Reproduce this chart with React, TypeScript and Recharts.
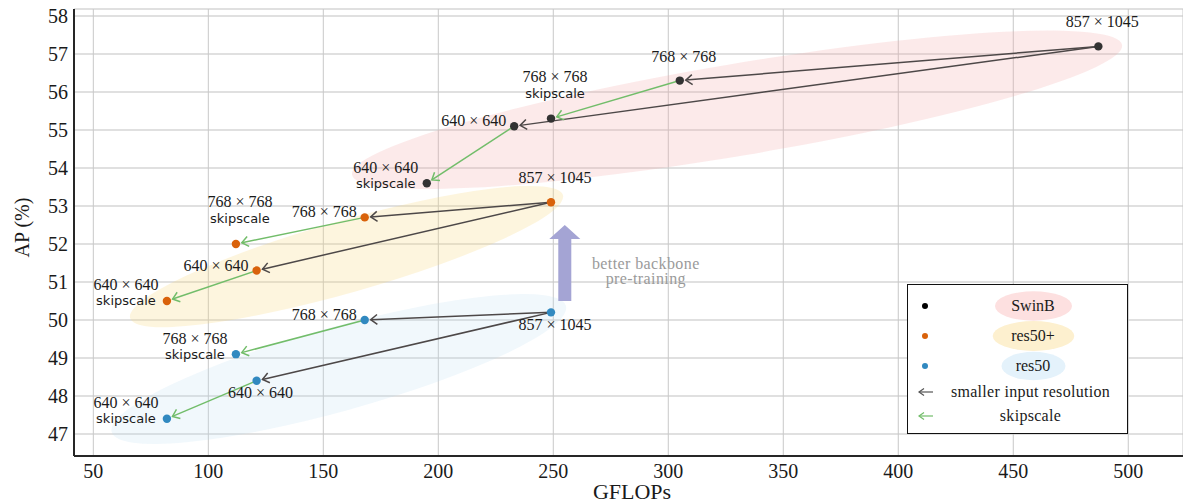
import React from 'react';
import { ScatterChart, Scatter, XAxis, YAxis, CartesianGrid, ReferenceLine, Legend, Label } from 'recharts';

// ---------- data ----------
const gflopsTicks = [50, 100, 150, 200, 250, 300, 350, 400, 450, 500];
const apTicks = [47, 48, 49, 50, 51, 52, 53, 54, 55, 56, 57, 58];

const resolutions = ['857 × 1045', '768 × 768', '768 × 768', '640 × 640', '640 × 640'];
const skipFlags = [false, false, true, false, true];

const swinbGflops = [487, 305, 249, 233, 195];
const swinbAp = [57.2, 56.3, 55.3, 55.1, 53.6];
const res50plusGflops = [249, 168, 112, 121, 82];
const res50plusAp = [53.1, 52.7, 52.0, 51.3, 50.5];
const res50Gflops = [249, 168, 112, 121, 82];
const res50Ap = [50.2, 50.0, 49.1, 48.4, 47.4];

// arrows between points of the same backbone (indices into the arrays above)
const arrowFrom = [0, 0, 1, 3];
const arrowTo = [1, 3, 2, 4];
const arrowKind = ['resolution', 'resolution', 'skipscale', 'skipscale'];

// shaded backbone regions: ends of the long axis (GFLOPs, AP)
const regionNames = ['SwinB', 'res50+', 'res50'];
const regionStartGflops = [162.5, 66, 58];
const regionStartAp = [53.82, 50.05, 47.05];
const regionEndGflops = [497.3, 254.2, 255.5];
const regionEndAp = [57.24, 53.29, 50.37];

// "better backbone pre-training" arrow
const backboneArrowGflops = 255;
const backboneArrowFromAp = 50.5;
const backboneArrowToAp = 52.5;
const backboneText = ['better backbone', 'pre-training'];

const legendLabels = ['SwinB', 'res50+', 'res50', 'smaller input resolution', 'skipscale'];

// ---------- styles ----------
const SERIF = '"Liberation Serif", "Times New Roman", serif';
const SANS = '"DejaVu Sans", "Noto Sans", sans-serif';
const X_DOMAIN: [number, number] = [41.6, 523.8];
const Y_DOMAIN: [number, number] = [46.42, 58.184];

const seriesColors = ['#333333', '#d9620b', '#3189c0'];
const legendDotColors = ['#000000', '#d9620b', '#3189c0'];
const regionFills = ['#f4a6a6', '#f9d77e', '#b9dcf0'];
const regionOpacity = [0.24, 0.26, 0.2];
const regionHalfWidth = [46, 36, 42];
const legendRegionFills = ['#fde0e0', '#fdf0cf', '#e4f2fb'];
const arrowColors: Record<string, string> = { resolution: '#4d4848', skipscale: '#72bd6a' };

const swinbPlacement = ['above', 'above', 'aboveBlock', 'left', 'leftBlock'];
const res50plusPlacement = ['above', 'left', 'aboveBlock', 'left', 'leftBlock'];
const res50Placement = ['below', 'left', 'leftBlock', 'below', 'leftBlock'];

const buildSeries = (g: number[], a: number[]) =>
  g.map((x, i) => ({ gflops: x, ap: a[i], res: resolutions[i], skip: skipFlags[i], idx: i }));

const swinbData = buildSeries(swinbGflops, swinbAp);
const res50plusData = buildSeries(res50plusGflops, res50plusAp);
const res50Data = buildSeries(res50Gflops, res50Ap);
const allSeries = [swinbData, res50plusData, res50Data];

const numStyle = { fontFamily: SERIF, fontSize: 16, fill: '#1a1a1a' } as const;
const sansStyle = { fontFamily: SANS, fontSize: 13, fill: '#1a1a1a' } as const;

const makeDotShape = (color: string, placements: string[]) => (props: any) => {
  const { cx, cy, payload } = props;
  if (cx == null || cy == null) return <g />;
  const p = placements[payload.idx];
  const label = payload.res;
  let texts: React.ReactNode = null;
  if (p === 'above') {
    texts = <text x={cx + 4} y={cy - 19} textAnchor="middle" {...numStyle}>{label}</text>;
  } else if (p === 'below') {
    texts = <text x={cx + 4} y={cy + 17.5} textAnchor="middle" {...numStyle}>{label}</text>;
  } else if (p === 'left') {
    texts = <text x={cx - 8} y={cy} textAnchor="end" {...numStyle}>{label}</text>;
  } else if (p === 'aboveBlock') {
    texts = (
      <g>
        <text x={cx + 4} y={cy - 36.5} textAnchor="middle" {...numStyle}>{label}</text>
        <text x={cx + 4} y={cy - 21} textAnchor="middle" {...sansStyle}>skipscale</text>
      </g>
    );
  } else if (p === 'leftBlock') {
    texts = (
      <g>
        <text x={cx - 41} y={cy - 10.5} textAnchor="middle" {...numStyle}>{label}</text>
        <text x={cx - 41} y={cy + 4.5} textAnchor="middle" {...sansStyle}>skipscale</text>
      </g>
    );
  }
  return (
    <g>
      <circle cx={cx} cy={cy} r={4.2} fill={color} />
      {texts}
    </g>
  );
};

const makeArrowShape = (color: string) => (props: any) => {
  const { x1, y1, x2, y2 } = props;
  if ([x1, y1, x2, y2].some((v) => v == null || isNaN(v))) return <g />;
  const dx = x2 - x1;
  const dy = y2 - y1;
  const len = Math.hypot(dx, dy) || 1;
  const ux = dx / len;
  const uy = dy / len;
  const tipX = x2 - ux * 6;
  const tipY = y2 - uy * 6;
  const ax = tipX - ux * 6.5;
  const ay = tipY - uy * 6.5;
  const px = -uy;
  const py = ux;
  const s = 5;
  return (
    <g>
      <line x1={x1} y1={y1} x2={tipX} y2={tipY} stroke={color} strokeWidth={1.5} />
      <polyline
        points={`${ax + px * s},${ay + py * s} ${tipX},${tipY} ${ax - px * s},${ay - py * s}`}
        fill="none"
        stroke={color}
        strokeWidth={1.5}
      />
    </g>
  );
};

const makeRegionShape = (fill: string, opacity: number, halfWidth: number) => (props: any) => {
  const { x1, y1, x2, y2 } = props;
  if ([x1, y1, x2, y2].some((v) => v == null || isNaN(v))) return <g />;
  const cx = (x1 + x2) / 2;
  const cy = (y1 + y2) / 2;
  const rx = Math.hypot(x2 - x1, y2 - y1) / 2;
  const angle = (Math.atan2(y2 - y1, x2 - x1) * 180) / Math.PI;
  return (
    <ellipse
      cx={cx}
      cy={cy}
      rx={rx}
      ry={halfWidth}
      fill={fill}
      fillOpacity={opacity}
      transform={`rotate(${angle} ${cx} ${cy})`}
    />
  );
};

const backboneShape = (props: any) => {
  const { x1, y1, y2 } = props;
  if ([x1, y1, y2].some((v) => v == null || isNaN(v))) return <g />;
  const x = x1;
  const shaft = 6.5;
  const head = 15.5;
  const headLen = 14;
  const pts = [
    [x - shaft, y1],
    [x - shaft, y2 + headLen],
    [x - head, y2 + headLen],
    [x, y2],
    [x + head, y2 + headLen],
    [x + shaft, y2 + headLen],
    [x + shaft, y1],
  ]
    .map((p) => p.join(','))
    .join(' ');
  return (
    <g>
      <polygon points={pts} fill="#a4a4d4" />
      <text x={x + 81} y={y2 + 44} textAnchor="middle" fontFamily={SERIF} fontSize={16} letterSpacing={0.4} fill="#9a9a9a">
        {backboneText[0]}
      </text>
      <text x={x + 81} y={y2 + 59} textAnchor="middle" fontFamily={SERIF} fontSize={16} letterSpacing={0.4} fill="#9a9a9a">
        {backboneText[1]}
      </text>
    </g>
  );
};

const LegendBox = () => {
  const rowY = [21, 51, 81, 107, 131];
  const ellipseR = [
    [38.5, 14.7],
    [40.8, 15],
    [32, 14.2],
  ];
  const textStyle = { fontFamily: SERIF, fontSize: 16, fill: '#1a1a1a' } as const;
  return (
    <div
      style={{
        width: 221,
        height: 150,
        border: '1.3px solid #111',
        background: '#fff',
        boxSizing: 'border-box',
        position: 'relative',
      }}
    >
      <svg width={219} height={148} style={{ position: 'absolute', left: 0, top: 0 }}>
        {[0, 1, 2].map((i) => (
          <g key={i}>
            <circle cx={17} cy={rowY[i]} r={3} fill={legendDotColors[i]} />
            <ellipse cx={125.5} cy={rowY[i]} rx={ellipseR[i][0]} ry={ellipseR[i][1]} fill={legendRegionFills[i]} />
            <text x={125} y={rowY[i] + 5} textAnchor="middle" {...textStyle}>
              {legendLabels[i]}
            </text>
          </g>
        ))}
        {['resolution', 'skipscale'].map((k, j) => {
          const y = rowY[3 + j];
          const c = k === 'resolution' ? '#555' : '#72bd6a';
          return (
            <g key={k}>
              <line x1={11} y1={y} x2={25} y2={y} stroke={c} strokeWidth={1.2} />
              <polyline points={`${16},${y - 3.5} ${11},${y} ${16},${y + 3.5}`} fill="none" stroke={c} strokeWidth={1.2} />
              <text x={122.5} y={y + 5} textAnchor="middle" {...textStyle} letterSpacing={0.3}>
                {legendLabels[3 + j]}
              </text>
            </g>
          );
        })}
      </svg>
    </div>
  );
};

const YAxisLabel = (props: any) => {
  const vb = props.viewBox || { x: 0, y: 9, width: 74, height: 447 };
  const x = vb.x + 29;
  const y = vb.y + vb.height / 2 - 5;
  return (
    <text x={x} y={y} transform={`rotate(-90 ${x} ${y})`} textAnchor="middle" fontFamily={SERIF} fontSize={20} fill="#1a1a1a">
      AP (%)
    </text>
  );
};

const XAxisLabel = (props: any) => {
  const vb = props.viewBox || { x: 74, y: 456, width: 1109, height: 48 };
  return (
    <text x={vb.x + vb.width / 2 + 3.5} y={vb.y + 43} textAnchor="middle" fontFamily={SERIF} fontSize={22} fill="#1a1a1a">
      GFLOPs
    </text>
  );
};

export default function App() {
  return (
    <div style={{ position: 'absolute', left: 0, top: 0, width: 1183, height: 504, background: '#fff' }}>
      <ScatterChart width={1183} height={504} margin={{ top: 9, right: 0, bottom: 0, left: 0 }}>
        <CartesianGrid vertical={false} stroke="#d6d6d6" strokeWidth={1.6} />
        <CartesianGrid horizontal={false} stroke="#c8c8c8" strokeWidth={1} />
        <XAxis
          type="number"
          dataKey="gflops"
          domain={X_DOMAIN}
          ticks={gflopsTicks}
          interval={0}
          height={48}
          tickSize={0}
          tickMargin={8}
          tickLine={false}
          axisLine={{ stroke: '#262626', strokeWidth: 2 }}
          tick={{ fontFamily: SERIF, fontSize: 20, fill: '#1a1a1a' }}
        >
          <Label content={XAxisLabel} />
        </XAxis>
        <XAxis
          xAxisId="top"
          orientation="top"
          type="number"
          dataKey="gflops"
          domain={X_DOMAIN}
          ticks={gflopsTicks}
          interval={0}
          height={0}
          tickSize={-6}
          tickFormatter={() => ''}
          axisLine={{ stroke: '#262626', strokeWidth: 2 }}
          tickLine={{ stroke: '#444', strokeWidth: 1 }}
        />
        <YAxis
          type="number"
          dataKey="ap"
          domain={Y_DOMAIN}
          ticks={apTicks}
          interval={0}
          width={74}
          tickSize={0}
          tickMargin={6}
          tickLine={false}
          axisLine={{ stroke: '#262626', strokeWidth: 2 }}
          tick={{ fontFamily: SERIF, fontSize: 20, fill: '#1a1a1a' }}
        >
          <Label content={YAxisLabel} />
        </YAxis>

        {regionNames.map((name, i) => (
          <ReferenceLine
            key={name}
            segment={[
              { x: regionStartGflops[i], y: regionStartAp[i] },
              { x: regionEndGflops[i], y: regionEndAp[i] },
            ]}
            shape={makeRegionShape(regionFills[i], regionOpacity[i], regionHalfWidth[i])}
            ifOverflow="visible"
            {...({ zIndex: -50 } as any)}
          />
        ))}

        <ReferenceLine
          segment={[
            { x: backboneArrowGflops, y: backboneArrowFromAp },
            { x: backboneArrowGflops, y: backboneArrowToAp },
          ]}
          shape={backboneShape}
          ifOverflow="visible"
          {...({ zIndex: 500 } as any)}
        />

        {allSeries.map((series, s) =>
          arrowFrom.map((f, k) => (
            <ReferenceLine
              key={`arrow-${s}-${k}`}
              segment={[
                { x: series[f].gflops, y: series[f].ap },
                { x: series[arrowTo[k]].gflops, y: series[arrowTo[k]].ap },
              ]}
              shape={makeArrowShape(arrowColors[arrowKind[k]])}
              ifOverflow="visible"
              {...({ zIndex: 550 } as any)}
            />
          ))
        )}

        <Scatter
          name="SwinB"
          data={swinbData}
          dataKey="ap"
          shape={makeDotShape(seriesColors[0], swinbPlacement)}
          isAnimationActive={false}
        />
        <Scatter
          name="res50+"
          data={res50plusData}
          dataKey="ap"
          shape={makeDotShape(seriesColors[1], res50plusPlacement)}
          isAnimationActive={false}
        />
        <Scatter
          name="res50"
          data={res50Data}
          dataKey="ap"
          shape={makeDotShape(seriesColors[2], res50Placement)}
          isAnimationActive={false}
        />

        <Legend
          layout="vertical"
          align="center"
          verticalAlign="middle"
          content={LegendBox}
          wrapperStyle={{ left: 907, top: 284, width: 221, height: 150 }}
        />
      </ScatterChart>
    </div>
  );
}
